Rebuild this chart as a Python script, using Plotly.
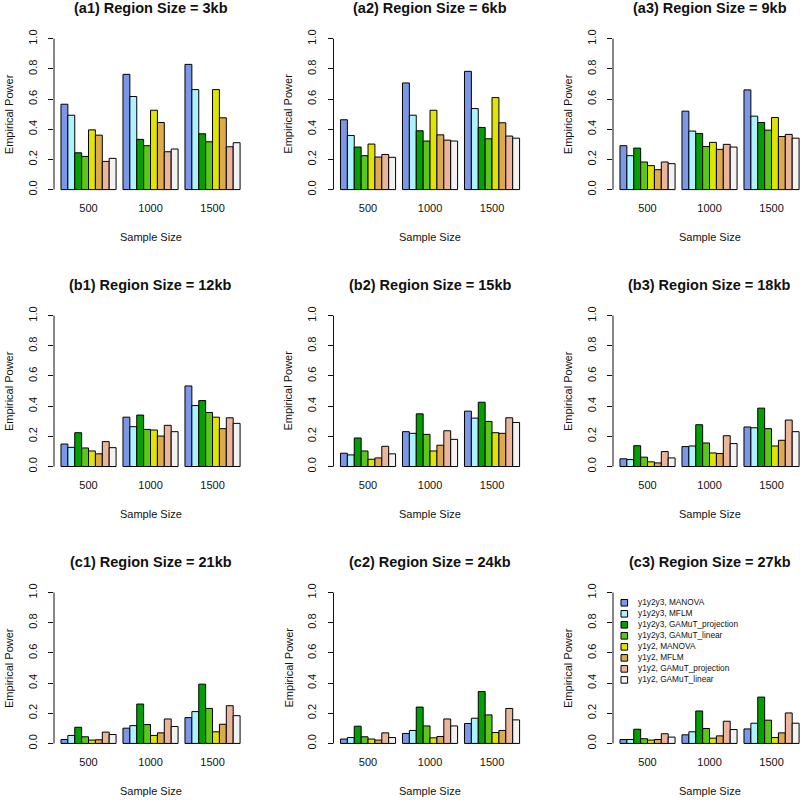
import plotly.graph_objects as go

# sample sizes (groups) and methods (bars inside each group)
sample_sizes = ["500", "1000", "1500"]
methods = [
    "y1y2y3, MANOVA",
    "y1y2y3, MFLM",
    "y1y2y3, GAMuT_projection",
    "y1y2y3, GAMuT_linear",
    "y1y2, MANOVA",
    "y1y2, MFLM",
    "y1y2, GAMuT_projection",
    "y1y2, GAMuT_linear",
]
colors = ["#7C96E8", "#ADF2FC", "#03A003", "#5CC716",
          "#E0E400", "#DEAA4E", "#EBB59C", "#F2F2F2"]

panel_titles = [
    "(a1) Region Size = 3kb", "(a2) Region Size = 6kb", "(a3) Region Size = 9kb",
    "(b1) Region Size = 12kb", "(b2) Region Size = 15kb", "(b3) Region Size = 18kb",
    "(c1) Region Size = 21kb", "(c2) Region Size = 24kb", "(c3) Region Size = 27kb",
]

# empirical power, one row per sample size (500, 1000, 1500), 8 methods per row
power_a1 = [[0.566, 0.493, 0.244, 0.220, 0.396, 0.361, 0.187, 0.207],
            [0.764, 0.617, 0.333, 0.291, 0.526, 0.445, 0.251, 0.269],
            [0.830, 0.663, 0.370, 0.317, 0.663, 0.476, 0.284, 0.311]]
power_a2 = [[0.463, 0.359, 0.282, 0.225, 0.302, 0.216, 0.233, 0.214],
            [0.707, 0.493, 0.390, 0.322, 0.526, 0.363, 0.328, 0.322],
            [0.784, 0.537, 0.412, 0.337, 0.610, 0.443, 0.355, 0.341]]
power_a3 = [[0.291, 0.225, 0.275, 0.183, 0.159, 0.132, 0.183, 0.172],
            [0.520, 0.388, 0.372, 0.286, 0.313, 0.267, 0.300, 0.282],
            [0.661, 0.487, 0.445, 0.394, 0.478, 0.352, 0.366, 0.341]]
power_b1 = [[0.149, 0.127, 0.224, 0.123, 0.103, 0.084, 0.165, 0.125],
            [0.327, 0.264, 0.341, 0.246, 0.242, 0.202, 0.273, 0.231],
            [0.534, 0.404, 0.437, 0.358, 0.327, 0.251, 0.323, 0.286]]
power_b2 = [[0.088, 0.077, 0.189, 0.103, 0.048, 0.057, 0.134, 0.084],
            [0.231, 0.220, 0.349, 0.213, 0.103, 0.141, 0.237, 0.180],
            [0.367, 0.321, 0.426, 0.299, 0.224, 0.220, 0.323, 0.292]]
power_b3 = [[0.051, 0.046, 0.138, 0.062, 0.031, 0.024, 0.099, 0.057],
            [0.132, 0.136, 0.277, 0.156, 0.090, 0.086, 0.204, 0.152],
            [0.262, 0.257, 0.387, 0.251, 0.136, 0.174, 0.308, 0.231]]
power_c1 = [[0.026, 0.053, 0.107, 0.044, 0.022, 0.024, 0.075, 0.059],
            [0.101, 0.118, 0.261, 0.125, 0.053, 0.070, 0.162, 0.112],
            [0.171, 0.211, 0.393, 0.232, 0.077, 0.127, 0.250, 0.184]]
power_c2 = [[0.029, 0.039, 0.114, 0.044, 0.029, 0.022, 0.070, 0.039],
            [0.066, 0.086, 0.241, 0.116, 0.037, 0.046, 0.162, 0.116],
            [0.132, 0.167, 0.344, 0.189, 0.072, 0.086, 0.232, 0.156]]
power_c3 = [[0.026, 0.026, 0.094, 0.031, 0.022, 0.026, 0.064, 0.042],
            [0.057, 0.077, 0.215, 0.099, 0.035, 0.050, 0.147, 0.092],
            [0.096, 0.134, 0.307, 0.154, 0.039, 0.070, 0.202, 0.134]]

panels = [power_a1, power_a2, power_a3,
          power_b1, power_b2, power_b3,
          power_c1, power_c2, power_c3]

W = H = 800
FONT = "Arial, Liberation Sans, Helvetica, sans-serif"
col_axis_px = [54, 333.5, 613]      # y-axis line position of each column
row_zero_px = [186, 465, 744]       # pixel row of power = 0
unit_px = 152                       # pixels for power 0 -> 1
cat_px = 62                         # pixels per sample-size group
x_lo, x_hi = -0.557, 2.56
y_range = [-0.03, 1.03]

fig = go.Figure()
annotations = []
shapes = []

for i, panel in enumerate(panels):
    r, c = divmod(i, 3)
    n = "" if i == 0 else str(i + 1)
    for m in range(len(methods)):
        fig.add_trace(go.Bar(
            x=sample_sizes,
            y=[row[m] for row in panel],
            name=methods[m],
            marker=dict(color=colors[m], line=dict(color="black", width=1)),
            xaxis="x" + n, yaxis="y" + n,
            showlegend=False,
        ))

    x0 = col_axis_px[c]
    full_x1 = x0 + (x_hi - x_lo) * cat_px
    x1 = min(full_x1, W)
    xr = [x_lo, x_lo + (x1 - x0) / cat_px]
    yb = row_zero_px[r] - y_range[0] * unit_px
    yt = row_zero_px[r] - y_range[1] * unit_px
    fig.update_layout({
        "xaxis" + n: dict(
            domain=[x0 / W, x1 / W], range=xr, anchor="y" + n,
            type="category", showgrid=False, zeroline=False, showline=False,
            ticks="", tickfont=dict(size=11, color="#111", family=FONT),
            ticklabelstandoff=6, fixedrange=True,
        ),
        "yaxis" + n: dict(
            domain=[1 - yb / H, 1 - yt / H], range=y_range, anchor="x" + n,
            showgrid=False, zeroline=False, showline=False,
            tickvals=[0, 0.2, 0.4, 0.6, 0.8, 1.0],
            ticktext=["0.0", "0.2", "0.4", "0.6", "0.8", "1.0"],
            tickangle=-90, ticks="outside", ticklen=5, tickwidth=1,
            tickcolor="#111", tickfont=dict(size=11, color="#111", family=FONT),
            ticklabelstandoff=7, fixedrange=True,
        ),
    })

    # R-style axis line that only spans 0..1
    shapes.append(dict(type="line", xref="paper", yref="y" + n,
                       x0=x0 / W, x1=x0 / W, y0=0, y1=1,
                       line=dict(color="#111", width=1)))

    cx = (x0 + full_x1) / 2 / W
    annotations.append(dict(
        text="<b>" + panel_titles[i] + "</b>", x=cx, y=1 - (row_zero_px[r] - 183) / H,
        xref="paper", yref="paper", showarrow=False, xanchor="center", yanchor="middle",
        font=dict(size=14.5, color="#111", family=FONT)))
    annotations.append(dict(
        text="Empirical Power", x=(x0 - 45) / W, y=1 - (row_zero_px[r] - 76) / H,
        xref="paper", yref="paper", showarrow=False, textangle=-90,
        xanchor="center", yanchor="middle",
        font=dict(size=11, color="#111", family=FONT)))
    annotations.append(dict(
        text="Sample Size", x=cx, y=1 - (row_zero_px[r] + 48) / H,
        xref="paper", yref="paper", showarrow=False,
        xanchor="center", yanchor="middle",
        font=dict(size=11, color="#111", family=FONT)))

# legend box inside panel c3
leg_x, leg_y, leg_dy, sw = 621, 602.3, 11.1, 6.6
for k, name in enumerate(methods):
    yc = leg_y + k * leg_dy
    shapes.append(dict(type="rect", xref="paper", yref="paper",
                       x0=leg_x / W, x1=(leg_x + sw) / W,
                       y0=1 - (yc + sw / 2) / H, y1=1 - (yc - sw / 2) / H,
                       fillcolor=colors[k], line=dict(color="black", width=1)))
    annotations.append(dict(
        text=name, x=(leg_x + 15) / W, y=1 - (yc - 1) / H, xref="paper", yref="paper",
        showarrow=False, xanchor="left", yanchor="middle",
        font=dict(size=8.3, color="#111", family=FONT)))

fig.update_layout(
    width=W, height=H,
    margin=dict(l=0, r=0, t=0, b=0),
    paper_bgcolor="white", plot_bgcolor="white",
    barmode="group", bargap=1 / 9, bargroupgap=0,
    showlegend=False,
    annotations=annotations, shapes=shapes,
    font=dict(family=FONT),
)

# the page's default 8px body margin would shift the whole 800x800 figure
fig.write_html("out.html", config={"displayModeBar": False},
               post_script="document.body.style.margin = '0';")
